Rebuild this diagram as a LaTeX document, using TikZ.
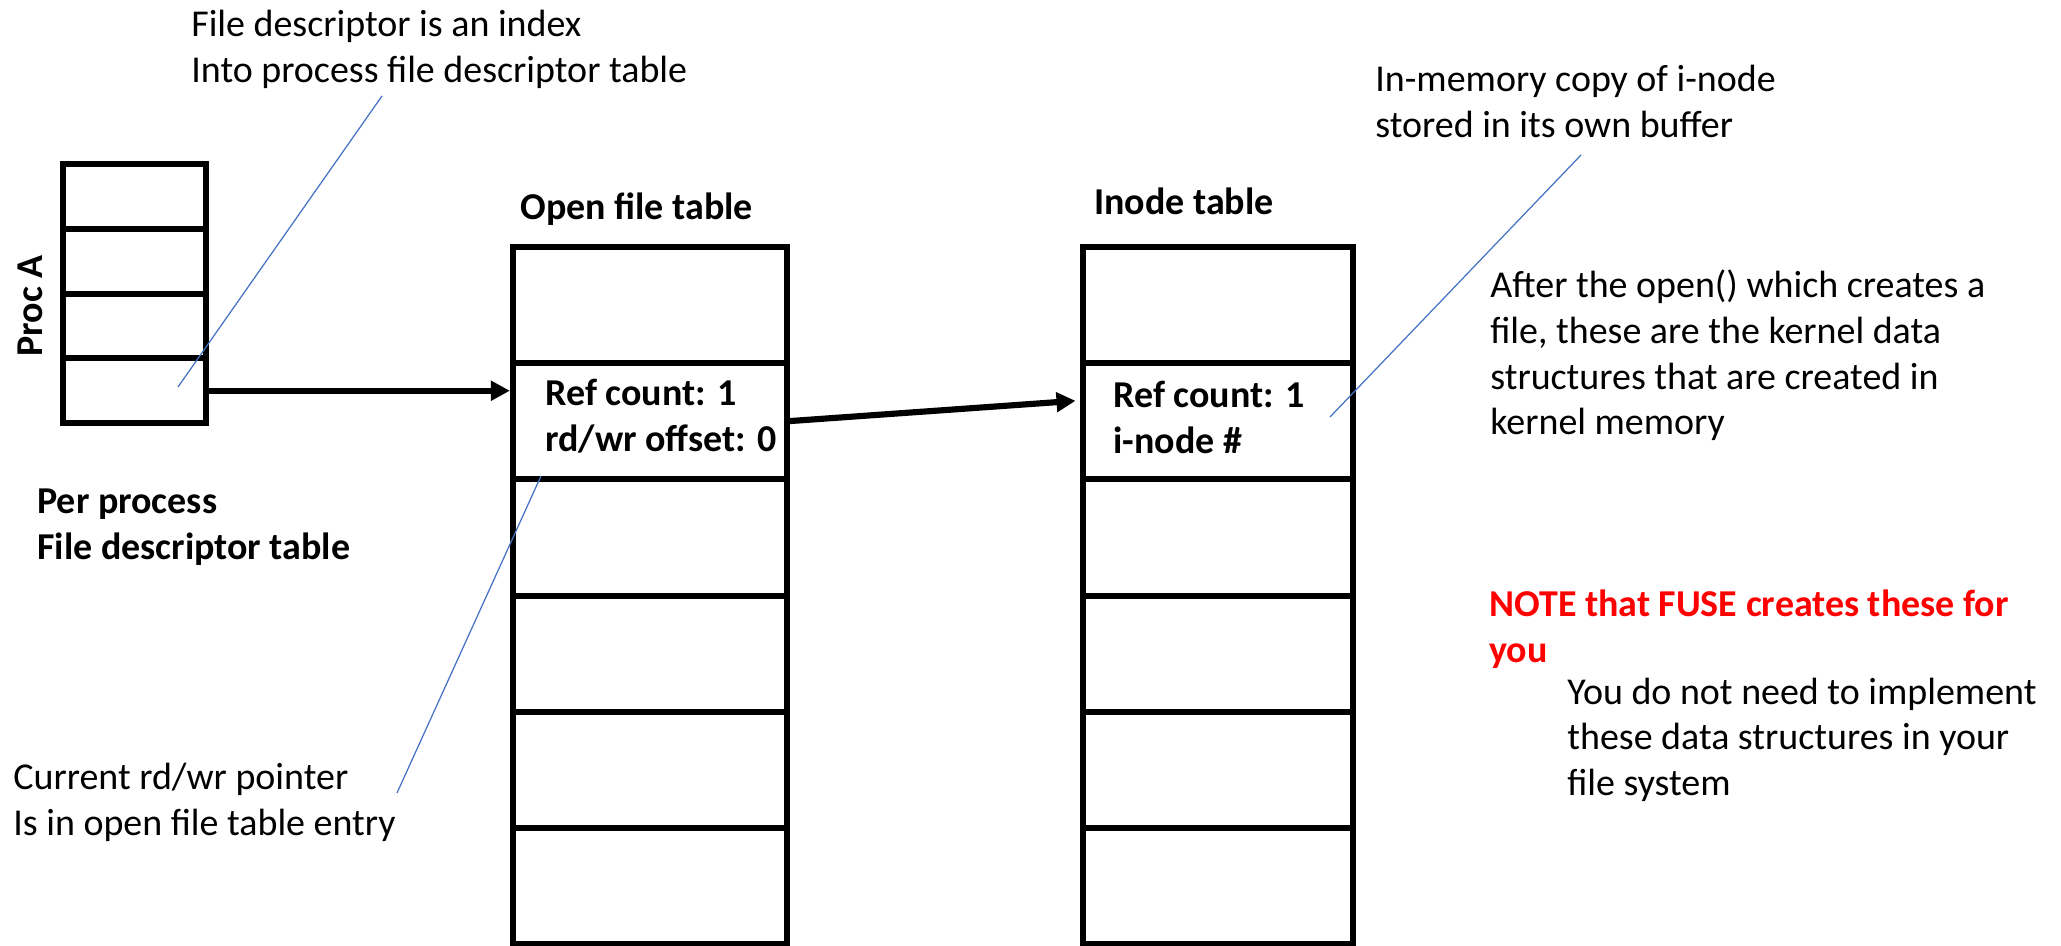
\documentclass[tikz,border=0pt]{standalone}
\usepackage{fontspec}
\setmainfont{Carlito}
\usetikzlibrary{arrows.meta,positioning}

\definecolor{calloutblue}{HTML}{4472C4}
\definecolor{notered}{HTML}{FF0000}
\newcommand{\slidefont}{\fontsize{21.6pt}{26pt}\selectfont}

\begin{document}
\begin{tikzpicture}[
  cell/.style={draw, line width=3.5pt, outer sep=0pt, inner sep=0pt},
  fdcell/.style={cell, minimum width=2.86cm, minimum height=1.295cm},
  ofcell/.style={cell, minimum width=5.48cm, minimum height=2.324cm},
  incell/.style={cell, minimum width=5.4cm, minimum height=2.324cm},
  txt/.style={anchor=base west, align=left, inner sep=0pt, font=\slidefont},
  hd/.style={txt, font=\slidefont\bfseries},
  ptr/.style={line width=3.5pt, -{Triangle[length=0.38cm, width=0.38cm]}},
  callout/.style={calloutblue, line width=0.7pt}
]
%\draw [help lines,black!20!white] (0,0) grid (41,19);
\path[use as bounding box, fill=white] (0,0) rectangle (41.22,18.92);

% per process table
\node[fdcell] (fd1) at (2.69,14.99) {};
\foreach \i [count=\j from 2] in {1,2,3}
  \node[fdcell, below=0pt of fd\i] (fd\j) {};

% open file table
\node[ofcell] (of1) at (13.0,12.818) {};
\foreach \i [count=\j from 2] in {1,...,5}
  \node[ofcell, below=0pt of of\i] (of\j) {};

% inode table
\node[incell] (in1) at (24.36,12.818) {};
\foreach \i [count=\j from 2] in {1,...,5}
  \node[incell, below=0pt of in\i] (in\j) {};

% labels (base = baseline of the last line)
\node[hd, rotate=90, anchor=base] (proca) at (0.84,12.8) {Proc A};
\node[hd] (perproc) at (0.74,7.73) {Per process\\File descriptor table};
\node[hd] (ofhead) at (10.4,14.52) {Open file table};
\node[hd] (inhead) at (21.88,14.62) {Inode table};
\node[hd] (ofentry) at (10.9,9.89) {Ref count: 1\\rd/wr offset: 0};
\node[hd] (inentry) at (22.26,9.85) {Ref count: 1\\i-node \#};

\node[txt] (fdnote) at (3.82,17.27) {File descriptor is an index\\Into process file descriptor table};
\node[txt] (ptrnote) at (0.26,2.21) {Current rd/wr pointer\\Is in open file table entry};
\node[txt] (copynote) at (27.5,16.17) {In-memory copy of i-node\\stored in its own buffer};
\node[txt] (afternote) at (29.8,10.22) {After the open() which creates a\\file, these are the kernel data\\structures that are created in\\kernel memory};
\node[hd, text=notered] (fusenote) at (29.78,5.67) {NOTE that FUSE creates these for\\you};
\node[txt] (implnote) at (31.34,3.01) {You do not need to implement\\these data structures in your\\file system};

% pointers between the tables
\draw[ptr, shorten >=1.75pt] (fd4.east) -- (fd4.east -| of2.west);
\draw[ptr, shorten >=0.15cm] (of2.east) -- ([yshift=0.42cm]in2.west);

% callout lines
\coordinate (fdfrom) at (7.64,17.0);
\coordinate (fdto) at (3.56,11.18);
\coordinate (ptrfrom) at (10.82,9.4);
\coordinate (ptrto) at (7.94,3.06);
\coordinate (copyfrom) at (31.62,15.82);
\coordinate (copyto) at (26.6,10.58);
\draw[callout] (fdfrom) -- (fdto);
\draw[callout] (ptrfrom) -- (ptrto);
\draw[callout] (copyfrom) -- (copyto);

\end{tikzpicture}
\end{document}
